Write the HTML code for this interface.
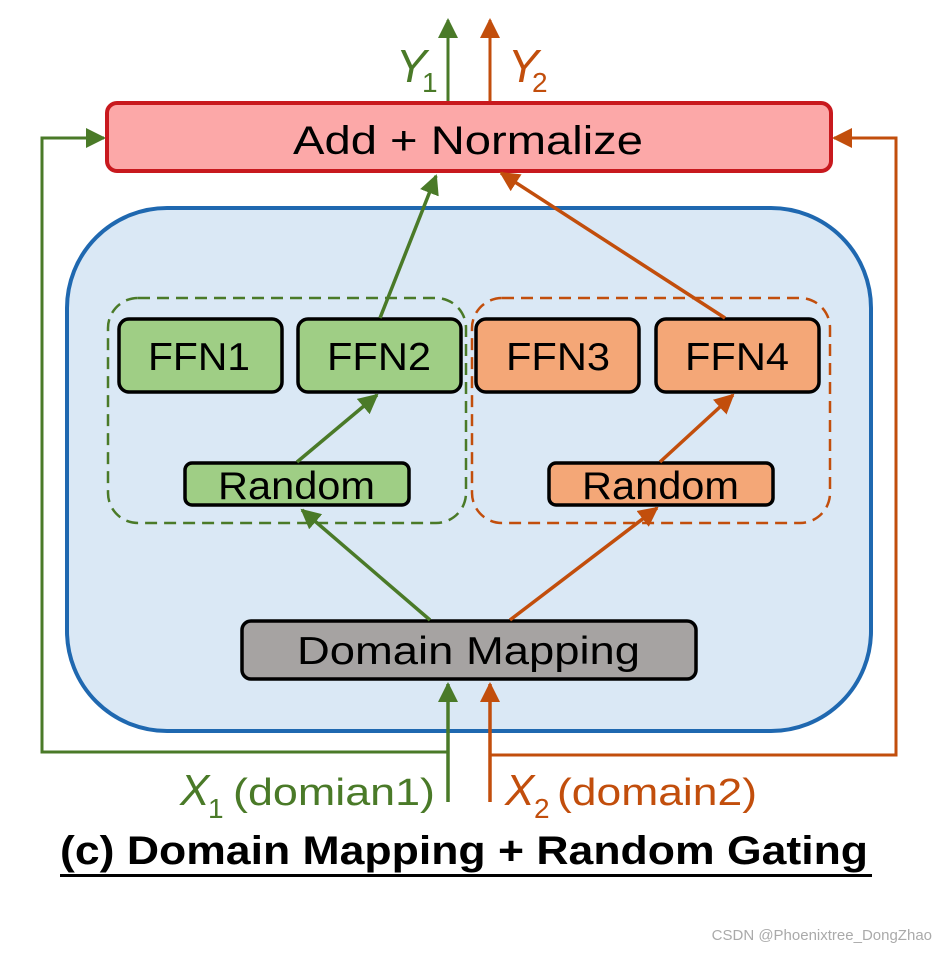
<!DOCTYPE html>
<html><head><style>
body{margin:0;background:#fff;}
svg text{font-family:"Liberation Sans",sans-serif;}
</style></head><body>
<svg width="938" height="950" viewBox="0 0 938 950" xmlns="http://www.w3.org/2000/svg">
<defs>
<marker id="agl" markerWidth="20" markerHeight="20" refX="18" refY="10" orient="auto" markerUnits="userSpaceOnUse" viewBox="0 0 20 20"><path d="M0,0L20,10L0,20z" fill="#4a7a28"/></marker>
<marker id="aol" markerWidth="20" markerHeight="20" refX="18" refY="10" orient="auto" markerUnits="userSpaceOnUse" viewBox="0 0 20 20"><path d="M0,0L20,10L0,20z" fill="#c24e0c"/></marker>
</defs>
<rect x="67" y="208" width="804" height="523" rx="100" fill="#dae8f5" stroke="#1f68b0" stroke-width="4"/>
<polyline points="448,752 42,752 42,138 104,138" fill="none" stroke="#4a7a28" stroke-width="3" marker-end="url(#agl)"/>
<polyline points="490,755 896,755 896,138 834,138" fill="none" stroke="#c24e0c" stroke-width="3" marker-end="url(#aol)"/>
<line x1="448" y1="102" x2="448" y2="20" stroke="#4a7a28" stroke-width="3" marker-end="url(#agl)"/>
<line x1="490" y1="102" x2="490" y2="20" stroke="#c24e0c" stroke-width="3" marker-end="url(#aol)"/>
<text x="396" y="82" font-family="Liberation Serif" font-style="italic" font-size="46" fill="#4a7a28">Y</text>
<text x="422" y="92" font-size="28" fill="#4a7a28">1</text>
<text x="508" y="82" font-family="Liberation Serif" font-style="italic" font-size="46" fill="#c24e0c">Y</text>
<text x="532" y="92" font-size="28" fill="#c24e0c">2</text>
<rect x="107" y="103" width="724" height="68" rx="10" fill="#fca8a8" stroke="#c8191e" stroke-width="4"/>
<text x="293" y="154" font-size="40" fill="#000" textLength="350" lengthAdjust="spacingAndGlyphs">Add + Normalize</text>
<rect x="108" y="298" width="358" height="225" rx="30" fill="none" stroke="#4a7a28" stroke-width="2.5" stroke-dasharray="12,7"/>
<rect x="472" y="298" width="358" height="225" rx="30" fill="none" stroke="#c24e0c" stroke-width="2.5" stroke-dasharray="12,7"/>
<g stroke="#000" stroke-width="3.5">
<rect x="119" y="319" width="163" height="73" rx="10" fill="#9fce85"/>
<rect x="298" y="319" width="163" height="73" rx="10" fill="#9fce85"/>
<rect x="476" y="319" width="163" height="73" rx="10" fill="#f4a777"/>
<rect x="656" y="319" width="163" height="73" rx="10" fill="#f4a777"/>
<rect x="185" y="463" width="224" height="42" rx="7" fill="#9fce85"/>
<rect x="549" y="463" width="224" height="42" rx="7" fill="#f4a777"/>
<rect x="242" y="621" width="454" height="58" rx="9" fill="#a6a3a2"/>
</g>
<g font-size="39" fill="#000" lengthAdjust="spacingAndGlyphs">
<text x="148" y="370" textLength="102" lengthAdjust="spacingAndGlyphs">FFN1</text>
<text x="327" y="370" textLength="104" lengthAdjust="spacingAndGlyphs">FFN2</text>
<text x="506" y="370" textLength="104" lengthAdjust="spacingAndGlyphs">FFN3</text>
<text x="685" y="370" textLength="104" lengthAdjust="spacingAndGlyphs">FFN4</text>
<text x="218" y="499" textLength="157" lengthAdjust="spacingAndGlyphs">Random</text>
<text x="582" y="499" textLength="157" lengthAdjust="spacingAndGlyphs">Random</text>
<text x="297" y="664" textLength="343" lengthAdjust="spacingAndGlyphs">Domain Mapping</text>
</g>
<g stroke-width="3.5" fill="none">
<line x1="430" y1="620" x2="302" y2="510" stroke="#4a7a28" marker-end="url(#agl)"/>
<line x1="510" y1="620" x2="657" y2="508" stroke="#c24e0c" marker-end="url(#aol)"/>
<line x1="297" y1="462" x2="377" y2="395" stroke="#4a7a28" marker-end="url(#agl)"/>
<line x1="660" y1="462" x2="733" y2="395" stroke="#c24e0c" marker-end="url(#aol)"/>
<line x1="380" y1="318" x2="436" y2="176" stroke="#4a7a28" marker-end="url(#agl)"/>
<line x1="725" y1="318" x2="501" y2="173" stroke="#c24e0c" marker-end="url(#aol)"/>
<line x1="448" y1="802" x2="448" y2="684" stroke="#4a7a28" marker-end="url(#agl)"/>
<line x1="490" y1="802" x2="490" y2="684" stroke="#c24e0c" marker-end="url(#aol)"/>
</g>
<text x="180" y="805" font-family="Liberation Serif" font-style="italic" font-size="44" fill="#4a7a28">X</text>
<text x="208" y="818" font-size="28" fill="#4a7a28">1</text>
<text x="233" y="805" font-size="38" fill="#4a7a28" textLength="202" lengthAdjust="spacingAndGlyphs">(domian1)</text>
<text x="505" y="805" font-family="Liberation Serif" font-style="italic" font-size="44" fill="#c24e0c">X</text>
<text x="534" y="818" font-size="28" fill="#c24e0c">2</text>
<text x="557" y="805" font-size="38" fill="#c24e0c" textLength="200" lengthAdjust="spacingAndGlyphs">(domain2)</text>
<text x="60" y="864" font-size="40" font-weight="bold" fill="#000" textLength="808" lengthAdjust="spacingAndGlyphs">(c) Domain Mapping + Random Gating</text>
<rect x="60" y="874" width="812" height="3" fill="#000"/>
<text x="932" y="940" font-size="15" text-anchor="end" fill="#aaa">CSDN @Phoenixtree_DongZhao</text>
</svg>
</body></html>
